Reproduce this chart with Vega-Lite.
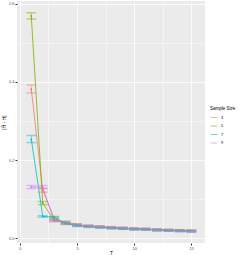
{
  "$schema": "https://vega.github.io/schema/vega-lite/v6.json",
  "width": 188,
  "height": 242,
  "autosize": {"type": "none"},
  "padding": {"left": 17, "top": 1, "right": 36, "bottom": 12},
  "background": "white",
  "config": {
    "view": {"fill": "#EBEBEB", "stroke": null},
    "font": "Liberation Sans"
  },
  "data": {"values": [
    {"n": "3", "T": 1, "value": 0.382, "lo": 0.372, "hi": 0.392},
    {"n": "3", "T": 2, "value": 0.123, "lo": 0.118, "hi": 0.128},
    {"n": "3", "T": 3, "value": 0.052, "lo": 0.049, "hi": 0.055},
    {"n": "3", "T": 4, "value": 0.037, "lo": 0.035, "hi": 0.039},
    {"n": "3", "T": 5, "value": 0.034, "lo": 0.032, "hi": 0.036},
    {"n": "3", "T": 6, "value": 0.032, "lo": 0.030, "hi": 0.034},
    {"n": "3", "T": 7, "value": 0.030, "lo": 0.028, "hi": 0.032},
    {"n": "3", "T": 8, "value": 0.028, "lo": 0.026, "hi": 0.030},
    {"n": "3", "T": 9, "value": 0.026, "lo": 0.024, "hi": 0.028},
    {"n": "3", "T": 10, "value": 0.025, "lo": 0.023, "hi": 0.027},
    {"n": "3", "T": 11, "value": 0.024, "lo": 0.022, "hi": 0.026},
    {"n": "3", "T": 12, "value": 0.022, "lo": 0.020, "hi": 0.024},
    {"n": "3", "T": 13, "value": 0.021, "lo": 0.019, "hi": 0.023},
    {"n": "3", "T": 14, "value": 0.020, "lo": 0.018, "hi": 0.022},
    {"n": "3", "T": 15, "value": 0.019, "lo": 0.017, "hi": 0.021},
    {"n": "5", "T": 1, "value": 0.569, "lo": 0.561, "hi": 0.577},
    {"n": "5", "T": 2, "value": 0.090, "lo": 0.086, "hi": 0.094},
    {"n": "5", "T": 3, "value": 0.046, "lo": 0.044, "hi": 0.048},
    {"n": "5", "T": 4, "value": 0.041, "lo": 0.039, "hi": 0.043},
    {"n": "5", "T": 5, "value": 0.035, "lo": 0.033, "hi": 0.037},
    {"n": "5", "T": 6, "value": 0.031, "lo": 0.029, "hi": 0.033},
    {"n": "5", "T": 7, "value": 0.029, "lo": 0.027, "hi": 0.031},
    {"n": "5", "T": 8, "value": 0.027, "lo": 0.025, "hi": 0.029},
    {"n": "5", "T": 9, "value": 0.026, "lo": 0.024, "hi": 0.028},
    {"n": "5", "T": 10, "value": 0.024, "lo": 0.022, "hi": 0.026},
    {"n": "5", "T": 11, "value": 0.023, "lo": 0.021, "hi": 0.025},
    {"n": "5", "T": 12, "value": 0.022, "lo": 0.020, "hi": 0.024},
    {"n": "5", "T": 13, "value": 0.021, "lo": 0.019, "hi": 0.023},
    {"n": "5", "T": 14, "value": 0.020, "lo": 0.018, "hi": 0.022},
    {"n": "5", "T": 15, "value": 0.019, "lo": 0.017, "hi": 0.021},
    {"n": "7", "T": 1, "value": 0.254, "lo": 0.245, "hi": 0.263},
    {"n": "7", "T": 2, "value": 0.056, "lo": 0.054, "hi": 0.058},
    {"n": "7", "T": 3, "value": 0.054, "lo": 0.052, "hi": 0.056},
    {"n": "7", "T": 4, "value": 0.038, "lo": 0.036, "hi": 0.040},
    {"n": "7", "T": 5, "value": 0.032, "lo": 0.030, "hi": 0.034},
    {"n": "7", "T": 6, "value": 0.030, "lo": 0.028, "hi": 0.032},
    {"n": "7", "T": 7, "value": 0.028, "lo": 0.026, "hi": 0.030},
    {"n": "7", "T": 8, "value": 0.026, "lo": 0.024, "hi": 0.028},
    {"n": "7", "T": 9, "value": 0.025, "lo": 0.023, "hi": 0.027},
    {"n": "7", "T": 10, "value": 0.023, "lo": 0.021, "hi": 0.025},
    {"n": "7", "T": 11, "value": 0.023, "lo": 0.021, "hi": 0.025},
    {"n": "7", "T": 12, "value": 0.021, "lo": 0.019, "hi": 0.023},
    {"n": "7", "T": 13, "value": 0.020, "lo": 0.018, "hi": 0.022},
    {"n": "7", "T": 14, "value": 0.019, "lo": 0.017, "hi": 0.021},
    {"n": "7", "T": 15, "value": 0.018, "lo": 0.016, "hi": 0.020},
    {"n": "9", "T": 1, "value": 0.131, "lo": 0.127, "hi": 0.135},
    {"n": "9", "T": 2, "value": 0.131, "lo": 0.127, "hi": 0.135},
    {"n": "9", "T": 3, "value": 0.044, "lo": 0.042, "hi": 0.046},
    {"n": "9", "T": 4, "value": 0.042, "lo": 0.040, "hi": 0.044},
    {"n": "9", "T": 5, "value": 0.034, "lo": 0.032, "hi": 0.036},
    {"n": "9", "T": 6, "value": 0.031, "lo": 0.029, "hi": 0.033},
    {"n": "9", "T": 7, "value": 0.029, "lo": 0.027, "hi": 0.031},
    {"n": "9", "T": 8, "value": 0.027, "lo": 0.025, "hi": 0.029},
    {"n": "9", "T": 9, "value": 0.026, "lo": 0.024, "hi": 0.028},
    {"n": "9", "T": 10, "value": 0.024, "lo": 0.022, "hi": 0.026},
    {"n": "9", "T": 11, "value": 0.023, "lo": 0.021, "hi": 0.025},
    {"n": "9", "T": 12, "value": 0.021, "lo": 0.019, "hi": 0.023},
    {"n": "9", "T": 13, "value": 0.020, "lo": 0.018, "hi": 0.022},
    {"n": "9", "T": 14, "value": 0.019, "lo": 0.017, "hi": 0.021},
    {"n": "9", "T": 15, "value": 0.018, "lo": 0.016, "hi": 0.020}
  ]},
  "encoding": {
    "x": {
      "field": "T", "type": "quantitative",
      "scale": {"domain": [-0.25, 16.2], "nice": false, "zero": false},
      "axis": {
        "title": "T", "titleFontSize": 5, "titleFontWeight": "normal", "titleColor": "black", "titlePadding": 0,
        "values": [0, 2.5, 5, 7.5, 10, 12.5, 15],
        "labelExpr": "datum.value % 5 == 0 ? format(datum.value, 'd') : ''",
        "labelFontSize": 4, "labelColor": "#4D4D4D", "labelPadding": 1,
        "domain": false,
        "tickSize": 2, "tickColor": "#333333",
        "tickOpacity": {"condition": {"test": "datum.value % 5 == 0", "value": 1}, "value": 0},
        "gridColor": "white",
        "gridOpacity": 1,
        "gridWidth": {"condition": {"test": "datum.value % 5 == 0", "value": 0.8}, "value": 0.4}
      }
    },
    "y": {
      "field": "value", "type": "quantitative",
      "scale": {"domain": [-0.012, 0.607], "nice": false, "zero": false},
      "axis": {
        "title": "|Ĥ - H|", "titleFontSize": 5, "titleFontWeight": "normal", "titleColor": "black", "titlePadding": 2,
        "values": [0, 0.1, 0.2, 0.3, 0.4, 0.5, 0.6],
        "labelExpr": "round(datum.value * 10) % 2 == 0 ? format(datum.value, '.1f') : ''",
        "labelFontSize": 4, "labelColor": "#4D4D4D", "labelPadding": 1,
        "domain": false,
        "tickSize": 2, "tickColor": "#333333",
        "tickOpacity": {"condition": {"test": "round(datum.value * 10) % 2 == 0", "value": 1}, "value": 0},
        "gridColor": "white",
        "gridOpacity": 1,
        "gridWidth": {"condition": {"test": "round(datum.value * 10) % 2 == 0", "value": 0.8}, "value": 0.4}
      }
    },
    "color": {
      "field": "n", "type": "nominal",
      "scale": {"domain": ["3", "5", "7", "9"], "range": ["#F8766D", "#7CAE00", "#00BFC4", "#C77CFF"]},
      "legend": {
        "title": "Sample Size", "titleFontSize": 4.5, "titleFontWeight": "normal", "titleColor": "black",
        "labelFontSize": 4, "labelColor": "black",
        "orient": "none", "legendX": 193, "legendY": 105,
        "symbolType": "stroke", "symbolSize": 40, "symbolStrokeWidth": 1,
        "rowPadding": 2.5, "titlePadding": 3, "labelOffset": 3
      }
    }
  },
  "layer": [
    {
      "mark": {"type": "line", "strokeWidth": 0.8}
    },
    {
      "mark": {"type": "rule", "strokeWidth": 0.8, "opacity": 0.6},
      "encoding": {
        "y": {"field": "lo", "type": "quantitative"},
        "y2": {"field": "hi"}
      }
    },
    {
      "mark": {"type": "tick", "orient": "horizontal", "size": 10, "thickness": 1.5, "opacity": 0.45},
      "encoding": {
        "y": {"field": "lo", "type": "quantitative"}
      }
    },
    {
      "mark": {"type": "tick", "orient": "horizontal", "size": 10, "thickness": 1.5, "opacity": 0.45},
      "encoding": {
        "y": {"field": "hi", "type": "quantitative"}
      }
    },
    {
      "mark": {"type": "point", "filled": true, "size": 3, "opacity": 1}
    }
  ]
}
